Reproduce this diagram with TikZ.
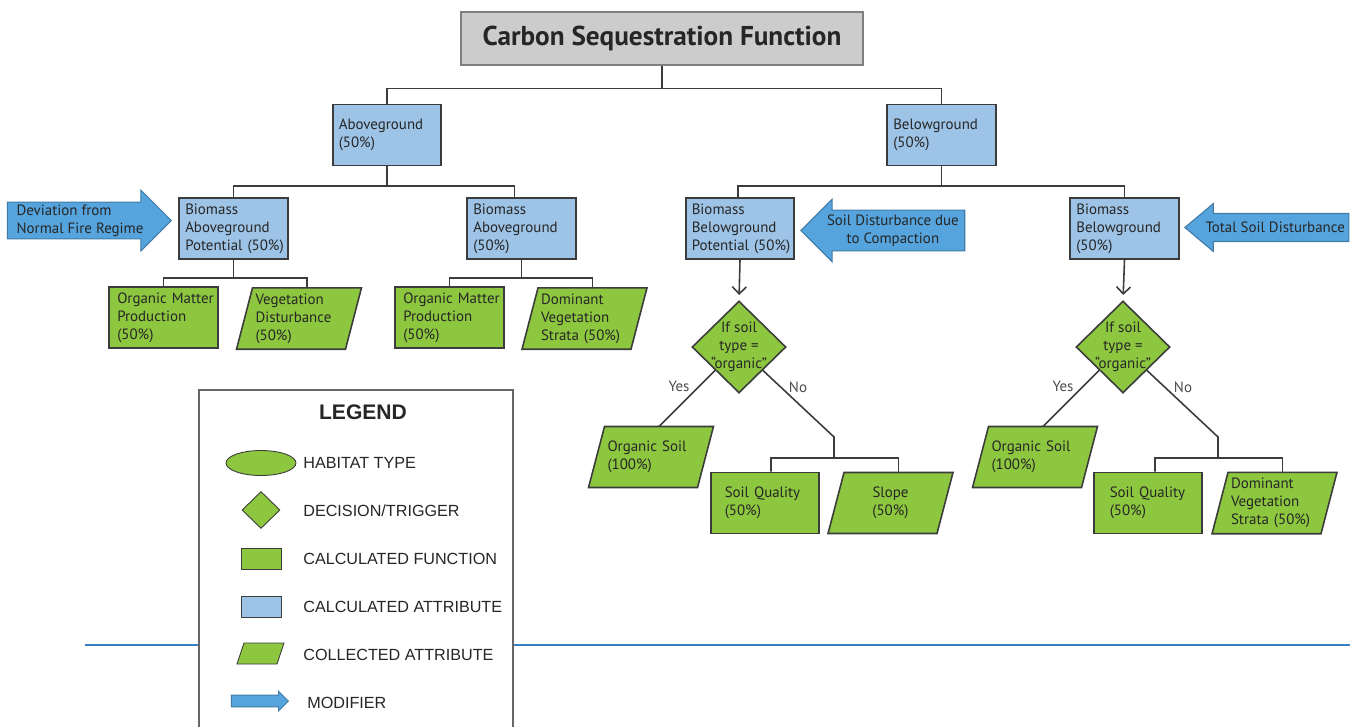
\documentclass[tikz,border=0pt]{standalone}
\usepackage{fontspec}
\setmainfont{PT Sans}
\newfontfamily\legendfont{Liberation Sans}
\usetikzlibrary{shapes.geometric,shapes.arrows,arrows.meta,backgrounds}

\definecolor{boxblue}{RGB}{157,195,230}
\definecolor{boxgreen}{RGB}{141,198,63}
\definecolor{arrowblue}{RGB}{86,164,221}
\definecolor{linegray}{RGB}{60,60,60}
\definecolor{ruleblue}{RGB}{58,127,193}

\hyphenpenalty=10000
\exhyphenpenalty=10000

\begin{document}
\begin{tikzpicture}
[x=0.02cm,y=-0.02cm,
 every node/.style={font=\fontsize{8.5}{10.2}\selectfont,text=black!85},
 link/.style={draw=linegray,line width=0.9pt},
 titlebox/.style={draw=black!50,fill=black!20,line width=0.8pt,minimum width=8.04cm,minimum height=1.06cm,font=\bfseries\fontsize{15.5}{17}\selectfont},
 attrbox/.style={draw=linegray,fill=boxblue,line width=0.9pt,minimum width=2.17cm,minimum height=1.22cm,text width=1.93cm,inner xsep=0.12cm,align=left},
 funcbox/.style={draw=linegray,fill=boxgreen,line width=0.9pt,minimum width=2.17cm,minimum height=1.22cm,text width=1.85cm,inner xsep=0.16cm,align=left},
 collbox/.style={minimum width=2.5cm,minimum height=1.22cm,text width=1.74cm,inner xsep=0.38cm,outer sep=0pt,align=left},
 collshape/.style={draw=linegray,fill=boxgreen,line width=0.9pt},
 decision/.style={diamond,draw=linegray,fill=boxgreen,line width=0.9pt,minimum width=1.88cm,minimum height=1.84cm,inner sep=-3pt,align=center},
 modifier/.style={single arrow,draw=arrowblue!75!black,fill=arrowblue,line width=0.6pt,inner xsep=0pt,anchor=tip,minimum height=3.28cm},
 legkey/.style={draw=linegray,line width=0.5pt,inner sep=0pt},
 legtext/.style={anchor=west,inner sep=0pt,font=\legendfont\fontsize{9.2}{10}\selectfont}]

\useasboundingbox (0,0) rectangle (1354,727);

% top of the tree
\node[titlebox] (title) at (662,38.5) {Carbon Sequestration Function};
\node[attrbox] (above) at (387,135) {Aboveground\\(50\%)};
\node[attrbox] (below) at (941.5,135) {Belowground\\(50\%)};

\node[attrbox] (bap) at (233.5,228.5) {Biomass\\Aboveground\\Potential~(50\%)};
\node[attrbox] (ba) at (521.5,228.5) {Biomass\\Aboveground\\(50\%)};
\node[attrbox] (bbp) at (740,228.5) {Biomass\\Belowground\\Potential~(50\%)};
\node[attrbox] (bb) at (1124.5,228.5) {Biomass\\Belowground\\(50\%)};

% modifiers
\node[modifier,inner ysep=1.2pt,single arrow head extend=0.24cm,align=left] (fire) at (172,220.5) {Deviation from\\Normal Fire Regime};
\node[modifier,shape border rotate=180,inner ysep=2.3pt,single arrow head extend=0.22cm,align=center] (compact) at (800,230.5) {Soil Disturbance due\\to Compaction};
\node[modifier,shape border rotate=180,inner ysep=4.6pt,single arrow tip angle=80,single arrow head extend=0.2cm] (totsoil) at (1184,227.5) {Total Soil Disturbance};

% aboveground leaves
\node[funcbox] (om1) at (163.5,317.5) {Organic~Matter\\Production\\(50\%)};
\node[collbox] (veg) at (299,318.5) {Vegetation\\Disturbance\\(50\%)};
\node[funcbox] (om2) at (449.5,317.5) {Organic~Matter\\Production\\(50\%)};
\node[collbox] (dom1) at (584.5,318.5) {Dominant\\Vegetation\\Strata~(50\%)};

% belowground decisions
\node[decision] (dia1) at (739,347) {If soil\\type =\\“organic”};
\node[decision] (dia2) at (1123,347) {If soil\\type =\\“organic”};
\node[text=black!70] (yes1) at (679,386) {Yes};
\node[text=black!70] (no1) at (798,387) {No};
\node[text=black!70] (yes2) at (1063,386) {Yes};
\node[text=black!70] (no2) at (1183,387) {No};

\node[collbox] (os1) at (651,457) {Organic~Soil\\(100\%)};
\node[funcbox,text width=1.61cm,inner xsep=0.28cm] (sq1) at (765,503) {Soil~Quality\\(50\%)};
\node[collbox,align=center] (slope) at (890.5,503) {Slope\\(50\%)};
\node[collbox] (os2) at (1035,457) {Organic~Soil\\(100\%)};
\node[funcbox,text width=1.53cm,inner xsep=0.32cm] (sq2) at (1148,503) {Soil~Quality\\(50\%)};
\node[collbox] (dom2) at (1274.5,503) {Dominant\\Vegetation\\Strata~(50\%)};

\coordinate (bend1) at (834,437);
\coordinate (bend2) at (1218,437);

\begin{scope}[on background layer]
\foreach \n/\s in {veg/16,dom1/16,os1/16,slope/16,os2/16,dom2/16}
\draw[collshape] ([xshift=\s*0.02cm]\n.north west) -- (\n.north east) -- ([xshift=-\s*0.02cm]\n.south east) -- (\n.south west) -- cycle;
\end{scope}

% tree connectors
\draw[link] (title.south) -- ++(0,23) -| (above.north);
\draw[link] (title.south) -- ++(0,23) -| (below.north);
\draw[link] (above.south) -- ++(0,20) -| (bap.north);
\draw[link] (above.south) -- ++(0,20) -| ([xshift=-0.14cm]ba.north);
\draw[link] (below.south) -- ++(0,20) -| ([xshift=-0.04cm]bbp.north);
\draw[link] (below.south) -- ++(0,20) -| (bb.north);
\draw[link] (bap.south) -- ++(0,18) -| (om1.north);
\draw[link] (bap.south) -- ++(0,18) -| ([xshift=0.16cm]veg.north);
\draw[link] (ba.south) -- ++(0,18) -| (om2.north);
\draw[link] (ba.south) -- ++(0,18) -| ([xshift=0.16cm]dom1.north);
\draw[link,-{Straight Barb[length=4pt,width=8pt]},shorten >=3pt] (bbp.south) -- (dia1.north);
\draw[link,-{Straight Barb[length=4pt,width=8pt]},shorten >=3pt] (bb.south) -- (dia2.north);
\draw[link] (dia1.south west) -- ([xshift=0.16cm]os1.north);
\draw[link] (dia2.south west) -- ([xshift=0.16cm]os2.north);
\draw[link] (dia1.south east) -- (bend1) -- ++(0,21) -| ([xshift=0.12cm]sq1.north);
\draw[link] (bend1) -- ++(0,21) -| ([xshift=0.16cm]slope.north);
\draw[link] (dia2.south east) -- (bend2) -- ++(0,21) -| ([xshift=0.14cm]sq2.north);
\draw[link] (bend2) -- ++(0,21) -| ([xshift=0.16cm]dom2.north);

% page rule and legend
\draw[ruleblue,line width=0.6pt] (85,645) -- (1350,645);
\draw[draw=black!60,fill=white,line width=0.6pt] (199,727) |- (513,390) -- (513,727);
\node[font=\legendfont\bfseries\fontsize{12}{14}\selectfont] (legtitle) at (363,412) {LEGEND};
\node[legkey,ellipse,fill=boxgreen,minimum width=1.4cm,minimum height=0.5cm] (khab) at (261,463) {};
\node[legkey,diamond,fill=boxgreen,minimum width=0.76cm,minimum height=0.74cm] (kdec) at (261,510) {};
\node[legkey,fill=boxgreen,minimum width=0.8cm,minimum height=0.42cm] (kfunc) at (261,558.5) {};
\node[legkey,fill=boxblue,minimum width=0.8cm,minimum height=0.42cm] (kattr) at (261,606.5) {};
\node[minimum width=0.94cm,minimum height=0.42cm,inner sep=0pt,outer sep=0pt] (kcoll) at (260.5,653.5) {};
\draw[collshape,line width=0.5pt] ([xshift=0.14cm]kcoll.north west) -- (kcoll.north east) -- ([xshift=-0.14cm]kcoll.south east) -- (kcoll.south west) -- cycle;
\node[modifier,line width=0.5pt,inner ysep=3.1pt,minimum height=1.14cm,single arrow head extend=0.08cm] (kmod) at (289,701) {};

\node[legtext] (thab) at (303,463) {HABITAT TYPE};
\node[legtext] (tdec) at (303,511) {DECISION/TRIGGER};
\node[legtext] (tfunc) at (303,559) {CALCULATED FUNCTION};
\node[legtext] (tattr) at (303,607) {CALCULATED ATTRIBUTE};
\node[legtext] (tcoll) at (303,655) {COLLECTED ATTRIBUTE};
\node[legtext] (tmod) at (307,703) {MODIFIER};
\end{tikzpicture}
\end{document}
